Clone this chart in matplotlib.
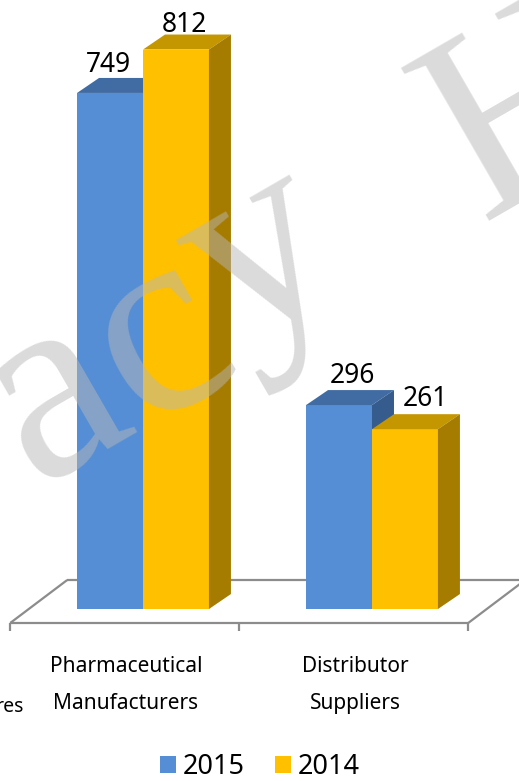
import numpy as np
import matplotlib.pyplot as plt
import matplotlib.transforms as mtransforms
from matplotlib.patches import Polygon, Patch
from matplotlib.lines import Line2D

categories = ['Pharmaceutical\nManufacturers', 'Distributor\nSuppliers']
series = ['2015', '2014']
vals_2015 = [749, 296]
vals_2014 = [812, 261]

# front, top, side shades
colors = {'2015': ('#558ed5', '#406ca3', '#355c8c'),
          '2014': ('#ffc000', '#c49600', '#a67c00')}

plt.rcParams['font.family'] = ['Noto Sans', 'DejaVu Sans']

fig = plt.figure(figsize=(5.19, 7.81), dpi=100)
ax = fig.add_axes([0, 0, 1, 1])
ax.axis('off')
ax.set_autoscale_on(False)
ax.set_xlim(-0.6245, 1.642)
ax.set_ylim(-249.6, 883.9)

ident = mtransforms.IdentityTransform()
DX, DY = 22, 15          # 3d depth of the bars, pixels
x = np.arange(len(categories))
width = 0.288

# floor of the 3d plot
x0f, _ = ax.transData.transform((x[0] - 0.58, 0))
x1f, _ = ax.transData.transform((x[-1] + 0.42, 0))
_, yz = ax.transData.transform((0, 0))
yfront, yback, shift = yz - 14, yz + 29, 57
fl = dict(color='#8c8c8c', lw=1.6, transform=ident, zorder=1, solid_capstyle='butt')
ax.add_line(Line2D([x0f, x1f], [yfront, yfront], **fl))
ax.add_line(Line2D([x0f + shift, x1f + shift], [yback, yback], **fl))
ax.add_line(Line2D([x0f, x0f + shift], [yfront, yback], **fl))
ax.add_line(Line2D([x1f, x1f + shift], [yfront, yback], **fl))
for k in range(len(categories) + 1):
    xt, _ = ax.transData.transform((x[0] - 0.58 + k, 0))
    ax.add_line(Line2D([xt, xt], [yfront, yfront - 8], **fl))

label_nudge = [[-2, 13], [8, 20]]
label_rise = [[21, 22], [18, 23]]

for i, (name, vals) in enumerate(zip(series, [vals_2015, vals_2014])):
    front, top, side = colors[name]
    bars = ax.bar(x + (i - 0.5) * width, vals, width, color=front,
                  linewidth=0, zorder=2 + i)
    for j, rect in enumerate(bars):
        xa, ya = ax.transData.transform((rect.get_x(), 0))
        xb, yb = ax.transData.transform((rect.get_x() + rect.get_width(), rect.get_height()))
        top_poly = [(xa, yb), (xb, yb), (xb + DX, yb + DY), (xa + DX, yb + DY)]
        side_poly = [(xb, ya), (xb + DX, ya + DY), (xb + DX, yb + DY), (xb, yb)]
        for pts, c in ((top_poly, top), (side_poly, side)):
            ax.add_patch(Polygon(pts, closed=True, facecolor=c, edgecolor='none',
                                 transform=ident, zorder=2 + i))
        ax.annotate(str(vals[j]), xy=(rect.get_x() + rect.get_width() / 2, vals[j]),
                    xytext=(label_nudge[i][j], label_rise[i][j]), textcoords='offset pixels',
                    ha='center', va='baseline', fontsize=19, zorder=5)

for j, cat in enumerate(categories):
    ax.annotate(cat, xy=(x[j], 0), xytext=(-17, -76), textcoords='offset pixels',
                ha='center', va='center', fontsize=15, linespacing=2.0)
# tail of the previous category label, cut off by the frame
ax.annotate('res', xy=(x[0], 0), xytext=(-119, -103), textcoords='offset pixels',
            ha='right', va='baseline', fontsize=14)

handles = [Patch(facecolor=colors[s][0]) for s in series]
fig.legend(handles, series, loc='center', bbox_to_anchor=(260 / 519, 1 - 767 / 781),
           ncol=2, frameon=False, fontsize=19.5, handlelength=0.6, handleheight=0.6,
           handletextpad=0.25, columnspacing=1.1)

# watermark, letter by letter (spaced out)
wm = dict(rotation=30, rotation_mode='anchor', ha='center', va='baseline',
          family='Liberation Serif', color='#b8b8b8', alpha=0.5, zorder=10)
for ch, (px, py) in zip('acy', [(87, 455), (193, 396), (294, 314)]):
    fig.text(px / 519, 1 - py / 781, ch, fontsize=195, **wm)
fig.text(566 / 519, 1 - 172 / 781, 'H', fontsize=194, **wm)

fig.savefig('out.png', dpi=100)
